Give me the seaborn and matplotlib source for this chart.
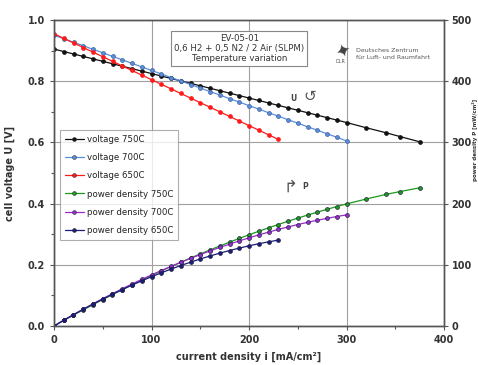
import matplotlib
matplotlib.use("Agg")
import matplotlib.pyplot as plt
import seaborn as sns
import pandas as pd
from matplotlib.ticker import MultipleLocator
from matplotlib.lines import Line2D

sns.set_theme(style="white")
plt.rcParams['font.family'] = ['DejaVu Sans']

# ---- data ----
i_750 = [0, 10, 20, 30, 40, 50, 60, 70, 80, 90, 100, 110, 120, 130, 140, 150, 160, 170, 180, 190,
         200, 210, 220, 230, 240, 250, 260, 270, 280, 290, 300, 320, 340, 355, 375]
u_750 = [0.905, 0.897, 0.889, 0.881, 0.873, 0.865, 0.857, 0.849, 0.841, 0.833, 0.825, 0.817, 0.809,
         0.801, 0.793, 0.785, 0.777, 0.769, 0.761, 0.753, 0.745, 0.737, 0.729, 0.721, 0.713, 0.705,
         0.697, 0.689, 0.681, 0.673, 0.665, 0.648, 0.632, 0.619, 0.602]
p_750 = [0, 9.0, 17.8, 26.4, 34.9, 43.3, 51.4, 59.4, 67.3, 75.0, 82.5, 89.9, 97.1, 104.1, 111.0,
         117.8, 124.3, 130.7, 137.0, 143.1, 149.0, 154.8, 160.4, 165.8, 171.1, 176.3, 181.2, 186.0,
         190.7, 195.2, 199.5, 207.4, 214.9, 219.7, 225.8]

i_700 = [0, 10, 20, 30, 40, 50, 60, 70, 80, 90, 100, 110, 120, 130, 140, 150, 160, 170, 180, 190,
         200, 210, 220, 230, 240, 250, 260, 270, 280, 290, 300]
u_700 = [0.950, 0.939, 0.927, 0.916, 0.904, 0.893, 0.881, 0.870, 0.858, 0.847, 0.835, 0.824, 0.812,
         0.801, 0.789, 0.778, 0.766, 0.755, 0.743, 0.732, 0.720, 0.709, 0.697, 0.686, 0.674, 0.663,
         0.651, 0.640, 0.628, 0.617, 0.605]
p_700 = [0, 9.4, 18.5, 27.5, 36.2, 44.7, 52.9, 60.9, 68.6, 76.2, 83.5, 90.6, 97.4, 104.1, 110.5,
         116.7, 122.6, 128.4, 133.7, 139.1, 144.0, 148.9, 153.3, 157.8, 161.8, 165.8, 169.3, 172.8,
         175.8, 178.9, 181.5]

i_650 = [0, 10, 20, 30, 40, 50, 60, 70, 80, 90, 100, 110, 120, 130, 140, 150, 160, 170, 180, 190,
         200, 210, 220, 230]
u_650 = [0.955, 0.940, 0.925, 0.910, 0.895, 0.880, 0.865, 0.850, 0.835, 0.820, 0.805, 0.790, 0.775,
         0.760, 0.745, 0.730, 0.715, 0.700, 0.685, 0.670, 0.655, 0.640, 0.625, 0.610]
p_650 = [0, 9.4, 18.5, 27.3, 35.8, 44.0, 51.9, 59.5, 66.8, 73.8, 80.5, 86.9, 93.0, 98.8, 104.3,
         109.5, 114.4, 119.0, 123.3, 127.3, 131.0, 134.4, 137.5, 140.3]

voltage_labels = ["voltage 750C", "voltage 700C", "voltage 650C"]
power_labels = ["power density 750C", "power density 700C", "power density 650C"]
x_ticks = [0, 100, 200, 300, 400]
y_ticks = [0.0, 0.2, 0.4, 0.6, 0.8, 1.0]
y2_ticks = [0, 100, 200, 300, 400, 500]

v_colors = ["#111111", "#5b8fdc", "#ff1a1a"]
p_colors = ["#1c9a1c", "#9a2ccc", "#1c1c7a"]

fig = plt.figure(figsize=(4.78, 3.65), dpi=100)
ax = fig.add_axes([54/478, 1-326/365, 390/478, 306/365])
ax2 = ax.twinx()

volt_sets = [(i_750, u_750), (i_700, u_700), (i_650, u_650)]
pow_sets = [(i_750, p_750), (i_700, p_700), (i_650, p_650)]

for (x, y), c, lab in zip(volt_sets, v_colors, voltage_labels):
    sns.lineplot(x=x, y=y, ax=ax, color=c, lw=0.9, marker='o', markersize=2.8,
                 markeredgecolor=c if c != "#5b8fdc" else "#3a5fa0", markeredgewidth=0.5,
                 legend=False, sort=False)
for (x, y), c, lab in zip(pow_sets, p_colors, power_labels):
    sns.lineplot(x=x, y=y, ax=ax2, color=c, lw=0.9, marker='o', markersize=2.8,
                 markeredgecolor="#222244", markeredgewidth=0.5, legend=False, sort=False)

ax.set_xlim(0, 400)
ax.set_ylim(0, 1.0)
ax2.set_ylim(0, 500)
ax.set_xticks(x_ticks)
ax.set_yticks(y_ticks)
ax2.set_yticks(y2_ticks)
ax.set_yticklabels([f"{v:.1f}" for v in y_ticks])
ax.xaxis.set_minor_locator(MultipleLocator(50))
ax.yaxis.set_minor_locator(MultipleLocator(0.1))
ax.grid(True, which='major', color='#a0a0a0', lw=0.8)
ax.set_axisbelow(True)
for a in (ax, ax2):
    for s in a.spines.values():
        s.set_color('#555555')
        s.set_linewidth(1.0)
ax.tick_params(axis='both', which='both', direction='out', length=3, width=0.8,
               colors='#555555', labelsize=7, labelcolor='#333333', left=True, bottom=True)
ax.tick_params(which='minor', length=2)
ax2.tick_params(axis='y', direction='out', length=3, width=0.8, colors='#555555',
                labelsize=7, labelcolor='#333333', right=True, pad=2.5)
for t in ax.get_xticklabels() + ax.get_yticklabels() + ax2.get_yticklabels():
    t.set_fontweight('bold')

ax.set_xlabel("current density i [mA/cm²]", fontsize=7, fontweight='bold', color='#333333')
ax.xaxis.set_label_coords(0.5, -0.085)
ax.set_ylabel("cell voltage U [V]", fontsize=7, fontweight='bold', color='#333333')
ax.yaxis.set_label_coords(-0.1, 0.5)
fig.text(475/478, 1-140/365, "power density P [mW/cm²]", rotation=90, ha='center',
         va='center', fontsize=4, fontweight='bold', color='#333333')

handles = []
for c, lab in zip(v_colors + p_colors, voltage_labels + power_labels):
    handles.append(Line2D([0], [0], color=c, lw=0.9, marker='o', markersize=2.8,
                          markeredgecolor="#333333", markeredgewidth=0.4, label=lab))
leg = ax.legend(handles=handles, loc='upper left', bbox_to_anchor=(0.005, 0.655),
                fontsize=6.2, frameon=True, fancybox=False, edgecolor='#999999',
                handlelength=2.2, labelspacing=1.08, borderpad=0.55, handletextpad=0.3)
leg.get_frame().set_linewidth(0.8)
for t in leg.get_texts():
    t.set_color('#222222')

ax.text(0.475, 0.955, "EV-05-01\n0,6 H2 + 0,5 N2 / 2 Air (SLPM)\nTemperature variation",
        transform=ax.transAxes, ha='center', va='top', fontsize=6.2, color='#333333',
        linespacing=1.15,
        bbox=dict(boxstyle='square,pad=0.35', fc='white', ec='#888888', lw=0.8))

# DLR logo (simplified)
ax.text(0.742, 0.895, "\u2726", transform=ax.transAxes, ha='center', va='center',
        fontsize=13, color='#444444', rotation=20)
ax.text(0.775, 0.888, "Deutsches Zentrum\nfür Luft- und Raumfahrt", transform=ax.transAxes,
        ha='left', va='center', fontsize=4.5, color='#555555', linespacing=1.6)
ax.text(0.722, 0.865, "DLR", transform=ax.transAxes, ha='left', va='center',
        fontsize=3.5, color='#555555')

ax.text(0.615, 0.745, "U", transform=ax.transAxes, ha='center', va='center',
        fontsize=5.5, color='#444444', fontweight='bold')
ax.text(0.655, 0.75, "\u21BA", transform=ax.transAxes, ha='center', va='center',
        fontsize=11, color='#555555')
ax.text(0.605, 0.455, "\u21B1", transform=ax.transAxes, ha='center', va='center',
        fontsize=12, color='#555555')
ax.text(0.645, 0.455, "P", transform=ax.transAxes, ha='center', va='center',
        fontsize=5.5, color='#444444', fontweight='bold')

fig.savefig("out.png", dpi=100, facecolor='white')
